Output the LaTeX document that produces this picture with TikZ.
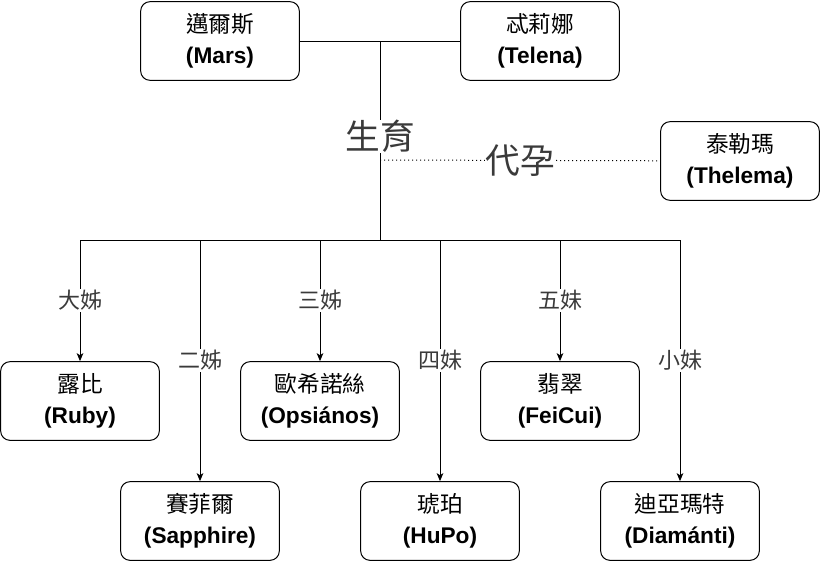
\documentclass[tikz,border=0pt]{standalone}
\usepackage{fontspec}
\setmainfont{Liberation Sans}
\newfontfamily\cjk{Noto Sans CJK TC}
\usetikzlibrary{arrows.meta,positioning}
\definecolor{cInk}{HTML}{000000}
\definecolor{cTag}{HTML}{3A3A3A}
\definecolor{cPaper}{HTML}{FFFFFF}
\tikzset{
  >={Stealth[length=6pt,width=5pt,inset=1.5pt]},
  who/.style ={rounded corners=7pt,draw=cInk,fill=cPaper,line width=0.75pt,align=center,
               minimum width=119pt,minimum height=59pt,inner sep=2pt,
               font=\fontsize{17}{23.5}\selectfont},
  ln/.style  ={draw=cInk,line width=0.75pt},
  ar/.style  ={ln,->},
  tag/.style ={font=\cjk\fontsize{16.5}{18}\selectfont,text=cTag,fill=cPaper,inner sep=1pt},
  bigtag/.style={tag,font=\cjk\fontsize{26}{28}\selectfont,inner sep=0pt},
  surr/.style={ln,dash pattern=on 0.9pt off 2.1pt},
}
\newcommand{\who}[2]{{\cjk #1}\\\textbf{(#2)}}

\begin{document}
\begin{tikzpicture}[x=0.75pt,y=-0.75pt]
\useasboundingbox (0,0) rectangle (822,562);
% parents and surrogate
\node[who] (mars)    at (220,41)  {\who{邁爾斯}{Mars}};
\node[who] (telena)  at (540,41)  {\who{忒莉娜}{Telena}};
\node[who] (thelema) at (740,161) {\who{泰勒瑪}{Thelema}};
% daughters
\node[who] (ruby)     at (80,401)  {\who{露比}{Ruby}};
\node[who] (opsianos) at (320,401) {\who{歐希諾絲}{Opsiános}};
\node[who] (feicui)   at (560,401) {\who{翡翠}{FeiCui}};
\node[who] (sapphire) at (200,521) {\who{賽菲爾}{Sapphire}};
\node[who] (hupo)     at (440,521) {\who{琥珀}{HuPo}};
\node[who] (diamanti) at (680,521) {\who{迪亞瑪特}{Diamánti}};
% junctions
\coordinate (mid)  at (380,41);
\coordinate (fork) at (380,240);
\coordinate (sg)   at (380,160);
\foreach \n/\x in {1/80,2/200,3/320,4/440,5/560,6/680}
  \coordinate (b\n) at (\x,240);
% lines
\draw[ln] (mars) -- (telena);
\draw[ln] (mid) -- node[bigtag,pos=0.48]{生育} (fork);
\draw[surr] (sg) -- node[bigtag]{代孕} (thelema);
\draw[ln] (b1) -- (b6);
\draw[ar] (b1) -- node[tag]{大姊} (ruby);
\draw[ar] (b2) -- node[tag]{二姊} (sapphire);
\draw[ar] (b3) -- node[tag]{三姊} (opsianos);
\draw[ar] (b4) -- node[tag]{四妹} (hupo);
\draw[ar] (b5) -- node[tag]{五妹} (feicui);
\draw[ar] (b6) -- node[tag]{小妹} (diamanti);
\end{tikzpicture}
\end{document}
